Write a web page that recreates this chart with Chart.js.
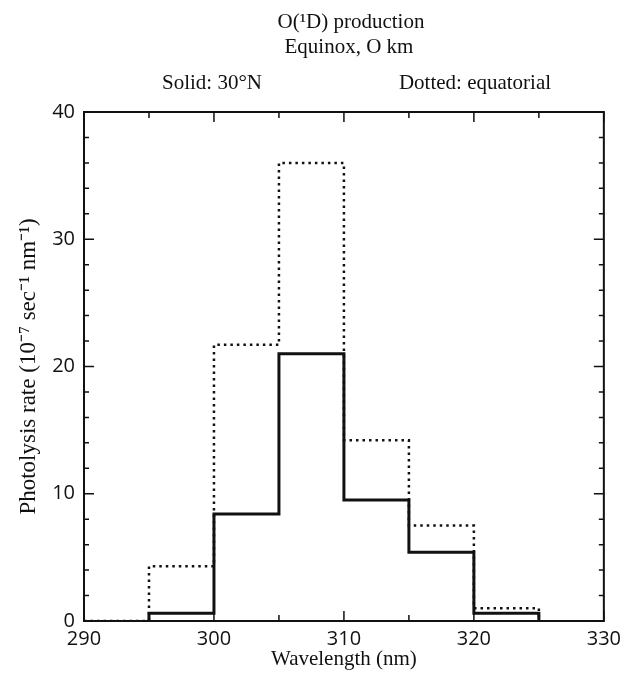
<!DOCTYPE html>
<html>
<head>
<meta charset="utf-8">
<script src="https://cdn.jsdelivr.net/npm/chart.js@4.4.0/dist/chart.umd.min.js"></script>
<style>
  html, body { margin: 0; padding: 0; background: #fff; }
  canvas { display: block; }
</style>
</head>
<body>
<canvas id="photolysisChart" width="627" height="676"></canvas>
<script>
  // bin edges (nm) and the photolysis rate of the bin starting at each edge
  const equatorialEdges = [290, 295, 300, 305, 310, 315, 320, 325];
  const equatorialRates = [0, 4.3, 21.7, 36.0, 14.2, 7.5, 1.0, 0];
  const midLatEdges = [295, 300, 305, 310, 315, 320, 325];
  const midLatRates = [0.6, 8.4, 21.0, 9.5, 5.4, 0.6, 0];

  const titleLines = ['O(\u00b9D) production', 'Equinox, O km'];
  const solidLabel = 'Solid: 30\u00b0N';
  const dottedLabel = 'Dotted: equatorial';
  const xTitle = 'Wavelength (nm)';
  const yTitle = 'Photolysis rate (10\u207b\u2077 sec\u207b\u00b9 nm\u207b\u00b9)';

  const serif = '"Liberation Serif", serif';
  const sans = '"Open Sans", sans-serif';
  const ink = '#111';

  // start every series from the baseline, then one point per bin edge
  function toSteps(edges, rates) {
    return [{ x: edges[0], y: 0 }].concat(edges.map((e, i) => ({ x: e, y: rates[i] })));
  }

  // frame, inward ticks and header text
  const framePlugin = {
    id: 'frame',
    afterDraw(chart) {
      const { ctx, chartArea: a, scales } = chart;
      const xs = scales.x, ys = scales.y;
      ctx.save();
      ctx.strokeStyle = ink;
      ctx.lineWidth = 2;
      ctx.strokeRect(a.left, a.top, a.right - a.left, a.bottom - a.top);

      ctx.lineWidth = 1.5;
      for (let v = xs.min; v <= xs.max; v += 5) {
        const px = xs.getPixelForValue(v);
        const len = v % 10 === 0 ? 10 : 6;
        ctx.beginPath();
        ctx.moveTo(px, a.bottom); ctx.lineTo(px, a.bottom - len);
        ctx.moveTo(px, a.top); ctx.lineTo(px, a.top + len);
        ctx.stroke();
      }
      for (let v = ys.min; v <= ys.max; v += 2) {
        const py = ys.getPixelForValue(v);
        const len = v % 10 === 0 ? 10 : 5;
        ctx.beginPath();
        ctx.moveTo(a.left, py); ctx.lineTo(a.left + len, py);
        ctx.moveTo(a.right, py); ctx.lineTo(a.right - len, py);
        ctx.stroke();
      }

      ctx.fillStyle = ink;
      ctx.font = '21px ' + serif;
      ctx.textAlign = 'center';
      ctx.textBaseline = 'middle';
      ctx.fillText(titleLines[0], 351, 22);
      ctx.fillText(titleLines[1], 349, 47);
      ctx.fillText(solidLabel, 212, 83);
      ctx.fillText(dottedLabel, 475, 83);
      ctx.restore();
    }
  };

  new Chart(document.getElementById('photolysisChart'), {
    type: 'line',
    data: {
      datasets: [
        {
          label: dottedLabel,
          data: toSteps(equatorialEdges, equatorialRates),
          stepped: 'before',
          borderColor: ink,
          borderWidth: 2.5,
          borderDash: [2.5, 4],
          pointRadius: 0,
          fill: false
        },
        {
          label: solidLabel,
          data: toSteps(midLatEdges, midLatRates),
          stepped: 'before',
          borderColor: ink,
          borderWidth: 3,
          pointRadius: 0,
          fill: false
        }
      ]
    },
    options: {
      responsive: false,
      animation: false,
      layout: { padding: { top: 112, right: 19, left: 0, bottom: 0 } },
      plugins: { legend: { display: false }, tooltip: { enabled: false } },
      scales: {
        x: {
          type: 'linear',
          min: 290,
          max: 330,
          grid: { display: false, drawTicks: false },
          border: { display: false },
          ticks: { stepSize: 10, color: ink, padding: 6, font: { family: sans, size: 20 } },
          title: { display: true, text: xTitle, color: ink, padding: { top: 0 }, font: { family: serif, size: 21 } },
          afterFit(scale) { scale.height = 55; }
        },
        y: {
          min: 0,
          max: 40,
          grid: { display: false, drawTicks: false },
          border: { display: false },
          ticks: { stepSize: 10, color: ink, padding: 9, font: { family: sans, size: 20 } },
          title: { display: true, text: yTitle, color: ink, padding: { bottom: 0, top: 15 }, font: { family: serif, size: 23 } },
          afterFit(scale) { scale.width = 84; }
        }
      }
    },
    plugins: [framePlugin]
  });
</script>
</body>
</html>
